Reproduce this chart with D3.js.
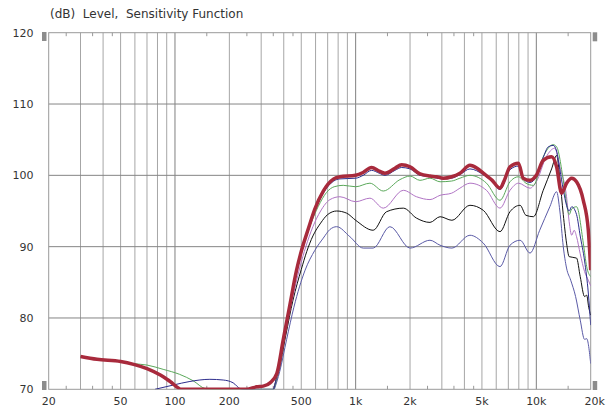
<!DOCTYPE html>
<html><head><meta charset="utf-8">
<script src="https://cdn.jsdelivr.net/npm/d3@7"></script>
<style>
body{margin:0;background:#fff;}
svg{display:block;}
text{font-family:"DejaVu Sans",Verdana,sans-serif;fill:#333;}
</style></head>
<body>
<svg id="chart" width="611" height="412"></svg>
<script>
const titleText = "(dB)  Level,  Sensitivity Function";
const freqTicks = [20,50,100,200,500,1000,2000,5000,10000,20000];
const freqLabels = ["20","50","100","200","500","1k","2k","5k","10k","20k"];
const dbTicks = [70,80,90,100,110,120];

const seriesRed = [[30,74.6],[37,74.2],[50,73.9],[59,73.5],[70,72.9],[83,72.0],[94,71.1],[109,70.0],[150,70],[200,70],[249,70],[283,70.35],[308,70.45],[336,70.9],[366,72.2],[397,76.9],[430,81.5],[471,86.7],[502,89.5],[547,92.5],[595,95.3],[662,97.8],[756,99.5],[819,99.8],[1000,100.0],[1100,100.4],[1225,101.1],[1350,100.6],[1452,100.3],[1650,101.0],[1797,101.5],[2000,101.2],[2270,100.2],[2579,99.9],[2800,99.8],[3054,99.6],[3400,99.8],[3777,100.3],[4292,101.4],[4700,101.0],[5086,100.3],[5700,99.3],[6295,98.2],[6700,99.5],[7150,101.2],[7960,101.7],[8460,99.6],[9230,99.3],[10000,100.0],[10920,102.1],[12150,102.6],[12950,101.2],[13800,97.5],[14700,98.9],[15700,99.6],[16700,99.1],[18200,96.5],[19400,92.3],[20000,86.7]];
const seriesNavy = [[77.5,70],[98,70.6],[121,71.1],[156,71.4],[185,71.3],[210,70.9],[229,70.1],[240,70],[300,70],[350,70],[366,72],[397,76.5],[430,81],[471,86.3],[502,89.2],[547,92.2],[595,95],[662,97.5],[756,99.2],[819,99.5],[1000,99.6],[1100,100.0],[1225,100.7],[1350,100.3],[1452,100.0],[1650,100.7],[1797,101.1],[2000,100.9],[2270,100.0],[2579,99.8],[3054,99.5],[3400,99.6],[3777,100.1],[4292,100.9],[5086,100.1],[5700,99.1],[6295,98.0],[7150,100.8],[7960,101.3],[8460,99.5],[9230,99.0],[10000,99.8],[10920,102.5],[11650,104.0],[12400,104.2],[12950,103.4],[13500,100.8],[14100,98.0],[14700,95.8],[15200,95.0],[15700,95.6],[16700,94.5],[17500,91.5],[18500,88],[19400,83.5],[20000,79]];
const seriesGreen = [[30,74.6],[37,74.2],[50,73.9],[59,73.6],[70,73.4],[86,72.8],[106,72.1],[126,71.2],[147,70.1],[160,70],[250,70],[300,70],[350,70],[372,72.7],[402,77.7],[440,82.8],[480,87.3],[520,90.5],[570,93.5],[620,95.6],[690,97.6],[760,98.4],[853,98.6],[1000,98.4],[1200,98.9],[1422,97.8],[1758,99.4],[2000,99.9],[2270,99.3],[2579,99.6],[2932,99.1],[3400,99.2],[3777,99.6],[4292,100.0],[5300,98.9],[6295,96.5],[7150,99.1],[7960,99.8],[8760,98.9],[9630,98.6],[10920,102.6],[12400,104.3],[12950,104.0],[14100,99.3],[14700,96.0],[15200,94.5],[15700,95.3],[16700,95.6],[18200,90.5],[19000,87.2],[20000,85.8]];
const seriesPurple = [[350,70],[375,72.7],[405,77.5],[445,82.5],[490,87],[530,90],[580,92.8],[640,95],[721,96.6],[819,97.0],[1000,96.3],[1200,96.8],[1422,95.4],[1836,97.9],[2173,97.0],[2579,96.6],[2932,97.2],[3400,97.5],[3777,98.2],[4292,98.9],[5300,97.9],[6295,95.4],[7150,97.9],[7960,98.9],[9230,98.2],[10000,99.1],[11350,102.6],[12650,103.8],[13500,101.2],[14700,97.0],[15200,93.5],[15700,91.6],[16200,92.3],[16700,91.4],[17500,89],[18500,86.5],[19400,85.3],[20000,84.5]];
const seriesBlack = [[350,70],[375,72.5],[410,77.5],[450,82.5],[500,86.8],[536,89.3],[580,91.5],[640,93.3],[700,94.5],[785,95.0],[891,94.7],[1000,93.7],[1250,92.3],[1483,94.9],[1836,95.4],[2173,94.0],[2579,93.4],[2932,94.2],[3410,93.7],[4292,95.8],[5086,95.1],[6295,92.1],[7150,94.9],[8130,95.8],[8760,94.4],[9630,94.2],[10920,97.9],[12150,100.9],[12950,102.8],[13500,99.5],[14100,94.5],[14700,90.5],[15200,88.6],[16700,88.4],[17500,85.8],[18500,83],[19000,83.2],[19500,81.5],[20000,80.4]];
const seriesSlate = [[355,70],[380,72.5],[415,77],[455,81.5],[525,86.7],[595,89.5],[662,91.2],[720,92.4],[785,92.8],[929,91.4],[1102,89.8],[1250,89.8],[1548,92.8],[2000,89.8],[2579,90.9],[2932,90.2],[3410,89.8],[4292,91.6],[5086,90.5],[6295,87.2],[7150,90.2],[8130,90.9],[9230,89.1],[10440,92.3],[11880,95.6],[12950,97.7],[13500,95],[14100,90],[14700,87],[15500,85.3],[16500,83],[17500,79.7],[18500,77],[19000,77.1],[20000,73.6]];

const series = [
  {data: seriesSlate, color:"#5a5aa6", width:1},
  {data: seriesBlack, color:"#111111", width:1},
  {data: seriesPurple, color:"#b074c4", width:1},
  {data: seriesGreen, color:"#5aa85a", width:1},
  {data: seriesNavy, color:"#2c2c8c", width:1},
  {data: seriesRed, color:"#a82a3c", width:3.5}
];

const L=48.7, R=590.7, T=32.7, B=389.3;
const x = d3.scaleLog().domain([20,20000]).range([L,R]);
const y = d3.scaleLinear().domain([70,120]).range([B,T]);
const svg = d3.select("#chart");

svg.append("text").attr("x",50).attr("y",17.5).attr("font-size",12)
  .attr("xml:space","preserve").style("white-space","pre").text(titleText);

// vertical grid
const gridF = [];
[10,100,1000,10000].forEach(d=>{for(let k=1;k<10;k++){const f=d*k; if(f>20&&f<20000) gridF.push(f);}});
svg.append("g").selectAll("line").data(gridF).join("line")
  .attr("x1",d=>x(d)).attr("x2",d=>x(d)).attr("y1",T).attr("y2",B)
  .attr("stroke",d=>[100,1000,10000].includes(d)?"#808080":"#a6a6a6").attr("stroke-width",1);
// horizontal grid
svg.append("g").selectAll("line").data(dbTicks.filter(d=>d>70&&d<120)).join("line")
  .attr("x1",L).attr("x2",R).attr("y1",d=>y(d)).attr("y2",d=>y(d))
  .attr("stroke","#858585").attr("stroke-width",1);
// minor ticks
const minorF = [];
[10,100,1000,10000].forEach(d=>{[1.5,2.5,3.5,4.5].forEach(k=>{const f=d*k; if(f>20&&f<20000) minorF.push(f);});});
svg.append("g").selectAll("line").data(minorF).join("line")
  .attr("x1",d=>x(d)).attr("x2",d=>x(d)).attr("y1",B).attr("y2",B-3.5).attr("stroke","#999");
svg.append("g").selectAll("line").data(minorF).join("line")
  .attr("x1",d=>x(d)).attr("x2",d=>x(d)).attr("y1",T).attr("y2",T+3.5).attr("stroke","#999");
// frame
svg.append("rect").attr("x",L).attr("y",T).attr("width",R-L).attr("height",B-T)
  .attr("fill","none").attr("stroke","#9a9a9a").attr("stroke-width",1);
// corner markers
[[42,32],[42,381],[592.7,32.3],[592.7,381]].forEach(p=>{
  svg.append("rect").attr("x",p[0]).attr("y",p[1]).attr("width",4.5).attr("height",9).attr("fill","#8c8c8c");
});

// clip
svg.append("clipPath").attr("id","clip").append("rect").attr("x",L).attr("y",T-2).attr("width",R-L).attr("height",B-T+2);
const line = d3.line().x(d=>x(d[0])).y(d=>y(Math.max(70,d[1]))).curve(d3.curveMonotoneX);
svg.append("g").attr("clip-path","url(#clip)").selectAll("path").data(series).join("path")
  .attr("d",d=>line(d.data)).attr("fill","none").attr("stroke",d=>d.color)
  .attr("stroke-width",d=>d.width).attr("stroke-linejoin","round");

// y labels
svg.append("g").selectAll("text").data(dbTicks).join("text")
  .attr("x",33.5).attr("y",d=>y(d)).attr("dy","0.36em").attr("text-anchor","end")
  .attr("font-size",11).text(d=>d);
// x labels
svg.append("g").selectAll("text").data(freqTicks).join("text")
  .attr("x",(d,i)=>x(d)+(i===freqTicks.length-1?4:0)).attr("y",404.5).attr("text-anchor","middle")
  .attr("font-size",11).text((d,i)=>freqLabels[i]);
</script>
</body></html>
